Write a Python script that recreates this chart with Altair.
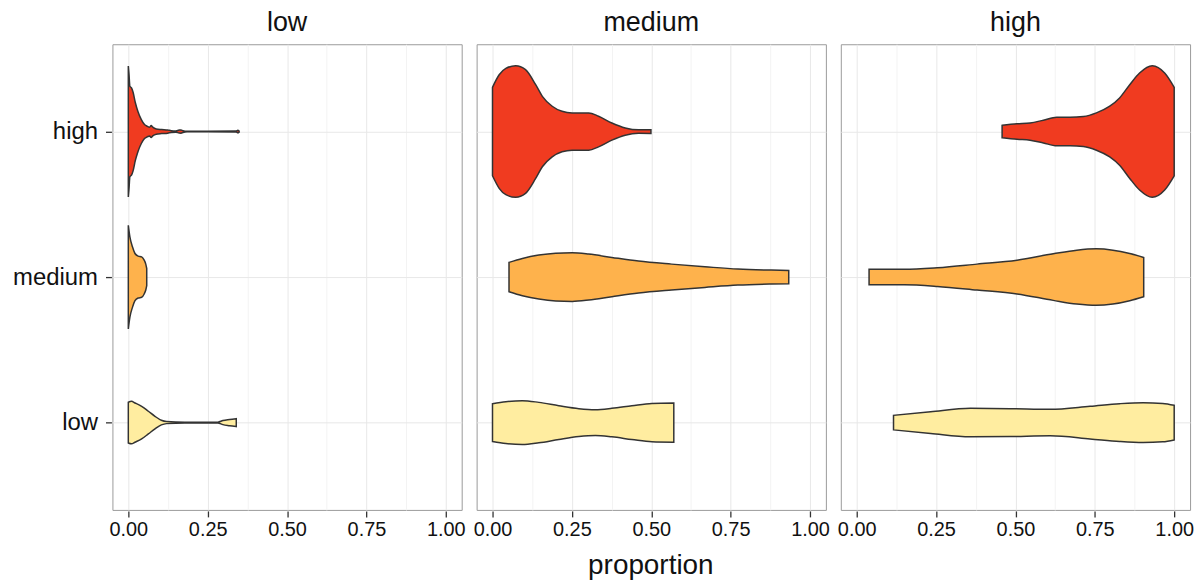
import altair as alt
import pandas as pd

# ---- data: violin outlines (proportion, half-width in category units) ----
panels = ["low", "medium", "high"]
groups = ["high", "medium", "low"]
group_pos = {"high": 3, "medium": 2, "low": 1}
fill_colors = ["#F03B20", "#FEB24C", "#FFEDA0"]

# facet "low"
low_high_x = [0.000, 0.002, 0.005, 0.010, 0.015, 0.022, 0.030, 0.041, 0.051, 0.060, 0.067, 0.072,
              0.077, 0.088, 0.105, 0.124, 0.135, 0.150, 0.160, 0.166, 0.172, 0.185, 0.250, 0.340,
              0.345, 0.349]
low_high_w = [0.45, 0.40, 0.31, 0.30, 0.27, 0.20, 0.14, 0.082, 0.048, 0.036, 0.030, 0.041,
              0.030, 0.018, 0.014, 0.011, 0.006, 0.004, 0.010, 0.011, 0.006, 0.002, 0.002, 0.003,
              0.009, 0.004]
low_medium_x = [0.000, 0.005, 0.013, 0.021, 0.031, 0.042, 0.050, 0.055, 0.058]
low_medium_w = [0.356, 0.276, 0.208, 0.162, 0.144, 0.139, 0.116, 0.089, 0.059]
low_low_x = [0.000, 0.010, 0.021, 0.042, 0.063, 0.084, 0.104, 0.120, 0.178, 0.282, 0.298, 0.319, 0.340]
low_low_w = [0.140, 0.146, 0.135, 0.112, 0.078, 0.043, 0.016, 0.007, 0.003, 0.003, 0.014, 0.021, 0.027]

# facet "medium"
medium_high_x = [0.000, 0.021, 0.042, 0.073, 0.104, 0.136, 0.157, 0.188, 0.219, 0.251, 0.303,
                 0.334, 0.376, 0.418, 0.460, 0.499]
medium_high_w = [0.304, 0.390, 0.434, 0.452, 0.425, 0.322, 0.242, 0.174, 0.139, 0.128, 0.128,
                 0.105, 0.059, 0.025, 0.012, 0.013]
medium_medium_x = [0.052, 0.094, 0.146, 0.199, 0.251, 0.303, 0.376, 0.460, 0.564, 0.669, 0.773,
                   0.878, 0.933]
medium_medium_w = [0.101, 0.128, 0.151, 0.164, 0.167, 0.158, 0.135, 0.110, 0.089, 0.071, 0.055,
                   0.048, 0.046]
medium_low_x = [0.000, 0.042, 0.094, 0.146, 0.209, 0.272, 0.324, 0.376, 0.439, 0.502, 0.571]
medium_low_w = [0.130, 0.144, 0.151, 0.139, 0.116, 0.096, 0.089, 0.098, 0.116, 0.132, 0.135]

# facet "high"
high_high_x = [0.458, 0.505, 0.546, 0.588, 0.630, 0.672, 0.714, 0.755, 0.797, 0.828, 0.860,
               0.891, 0.931, 0.970, 1.000]
high_high_w = [0.043, 0.053, 0.059, 0.078, 0.098, 0.098, 0.103, 0.128, 0.174, 0.231, 0.322,
               0.402, 0.452, 0.402, 0.304]
high_medium_x = [0.039, 0.149, 0.254, 0.379, 0.505, 0.619, 0.693, 0.755, 0.807, 0.860, 0.904]
high_medium_w = [0.053, 0.053, 0.064, 0.089, 0.116, 0.160, 0.185, 0.194, 0.185, 0.162, 0.135]
high_low_x = [0.116, 0.233, 0.358, 0.484, 0.609, 0.735, 0.828, 0.902, 0.964, 1.000]
high_low_w = [0.050, 0.075, 0.098, 0.096, 0.091, 0.112, 0.130, 0.137, 0.132, 0.119]

violins = {
    ("low", "high"): (low_high_x, low_high_w),
    ("low", "medium"): (low_medium_x, low_medium_w),
    ("low", "low"): (low_low_x, low_low_w),
    ("medium", "high"): (medium_high_x, medium_high_w),
    ("medium", "medium"): (medium_medium_x, medium_medium_w),
    ("medium", "low"): (medium_low_x, medium_low_w),
    ("high", "high"): (high_high_x, high_high_w),
    ("high", "medium"): (high_medium_x, high_medium_w),
    ("high", "low"): (high_low_x, high_low_w),
}

x_major = [0, 0.25, 0.5, 0.75, 1.0]
x_ticks_all = [0, 0.125, 0.25, 0.375, 0.5, 0.625, 0.75, 0.875, 1.0]

rows = []
for (panel, grp), (xs, ws) in violins.items():
    c = group_pos[grp]
    for xv, wv in zip(xs, ws):
        rows.append({"panel": panel, "group": grp, "vid": panel + "_" + grp,
                     "proportion": xv, "lo": c - wv, "hi": c + wv})
df = pd.DataFrame(rows)

FONT = "Liberation Sans"
TXT = "#111111"

base = alt.Chart(df).mark_area(
    stroke="#333333", strokeWidth=1.5, interpolate="monotone", orient="vertical", opacity=1
).encode(
    x=alt.X("proportion:Q",
            scale=alt.Scale(domain=[-0.05, 1.05], nice=False, zero=False),
            axis=alt.Axis(values=x_ticks_all, title=None,
                          labelExpr="datum.value % 0.25 == 0 ? format(datum.value, '.2f') : ''",
                          tickOpacity={"condition": {"test": "datum.value % 0.25 != 0", "value": 0}, "value": 1},
                          gridColor={"condition": {"test": "datum.value % 0.25 != 0", "value": "#f3f3f3"}, "value": "#e8e8e8"},
                          labelFontSize=20, labelPadding=3, tickSize=6, labelFlush=False,
                          labelOverlap=False)),
    y=alt.Y("lo:Q",
            scale=alt.Scale(domain=[0.4, 3.6], nice=False, zero=False),
            axis=alt.Axis(values=[1, 2, 3], title=None,
                          labelExpr="datum.value == 3 ? 'high' : datum.value == 2 ? 'medium' : 'low'",
                          labelFontSize=24, labelPadding=8, tickSize=6, gridColor="#e8e8e8")),
    y2="hi:Q",
    color=alt.Color("group:N", scale=alt.Scale(domain=groups, range=fill_colors), legend=None),
    detail="vid:N",
).properties(width=351, height=468)

chart = base.facet(
    column=alt.Column("panel:N", sort=panels,
                      header=alt.Header(title=None, labelFontSize=27, labelFont=FONT,
                                        labelColor=TXT, labelPadding=6)),
    spacing=13,
).properties(
    title=alt.TitleParams("proportion", orient="bottom", anchor="middle", fontSize=28,
                          font=FONT, fontWeight="normal", color=TXT, dx=48, offset=12),
    padding={"left": 12, "top": 8, "right": 10, "bottom": 5},
).configure_view(
    stroke="#9a9a9a", strokeWidth=1
).configure_axis(
    domain=False, labelFont=FONT, labelColor=TXT, tickColor="#333333", tickWidth=1.3,
    gridWidth=1
)

chart.save("out.html", embed_options={"renderer": "svg", "actions": False})
